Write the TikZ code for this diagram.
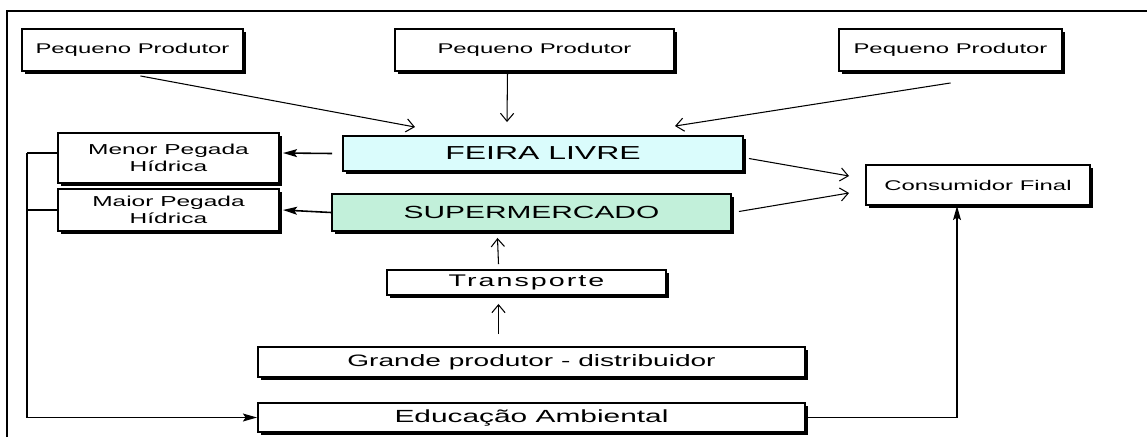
\documentclass[tikz,border=0pt]{standalone}
\usepackage{fontspec}
\setmainfont{Liberation Sans}[FakeStretch=1.7]
\usepackage{tikz}
\usetikzlibrary{calc}
\usetikzlibrary{shadows}
\usetikzlibrary{arrows.meta}
\definecolor{feiracol}{RGB}{218,252,252}
\definecolor{supercol}{RGB}{194,240,218}
\tikzset{
  box/.style={draw, line width=1.1pt, fill=white, inner sep=0pt, align=center,
    drop shadow={shadow xshift=1.5pt, shadow yshift=-1.5pt, fill=black, opacity=1}},
  thinarr/.style={line width=0.6pt, -{Straight Barb[length=4.5pt, width=7.5pt]}},
  fatarr/.style={line width=0.9pt, -{Stealth[length=8pt, width=4.5pt, inset=1.5pt]}},
  fatline/.style={line width=0.9pt}
}
% box from corner (x1,y1) to corner (x2,y2), in pixels
\newcommand{\boxA}[7]{ \node[box, #1, minimum width={(#5-#3)*0.02cm}, minimum height={(#6-#4)*0.02cm}] (#2) at ({(#3+#5)/2},{(#4+#6)/2}) {#7};}

\begin{document}
\begin{tikzpicture}[x=0.02cm, y=-0.02cm]
\useasboundingbox (0,0) rectangle (1147,437);
\draw[line width=1.7pt] (7,437) -- (7,11) -- (1147,11);
% row1
\boxA{font=\fontsize{8}{9.6}\selectfont}{pp1}{22}{29}{243}{71}{Pequeno Produtor}
\boxA{font=\fontsize{8}{9.6}\selectfont}{pp2}{395}{29}{674}{71}{Pequeno Produtor}
\boxA{font=\fontsize{8}{9.6}\selectfont}{pp3}{839}{29}{1062}{71}{Pequeno Produtor}
% row2
\boxA{font=\fontsize{8.2}{9.8}\selectfont}{menor}{58}{133}{279}{183}{Menor Pegada\\Hídrica}
\boxA{fill=feiracol, font=\fontsize{10.7}{12}\selectfont}{feira}{343}{136}{743}{171}{FEIRA LIVRE}
\boxA{font=\fontsize{8}{9.6}\selectfont}{cons}{866}{165}{1090}{205}{Consumidor Final}
% row3
\boxA{font=\fontsize{8.2}{9.8}\selectfont}{maior}{58}{189}{279}{231}{Maior Pegada\\Hídrica}
\boxA{fill=supercol, font=\fontsize{10}{12}\selectfont}{super}{332}{194}{731}{231}{SUPERMERCADO}
% lower rows
\boxA{font=\fontsize{9.6}{11}\selectfont\addfontfeature{LetterSpace=12}}{transp}{387}{270}{666}{295}{Transporte}
\boxA{font=\fontsize{9.4}{11}\selectfont}{grande}{258}{347}{805}{377}{Grande produtor - distribuidor}
\boxA{font=\fontsize{10}{12}\selectfont}{educ}{258}{403}{805}{432}{Educação Ambiental}

% producers to feira
\draw[thinarr] ($(pp1.south)+(8,4)$) -- ($(feira.north)+(-128,-8)$);
\draw[thinarr] ($(pp2.south)+(-27,0)$) -- ($(feira.north)+(-36,-13)$);
\draw[thinarr] ($(pp3.south)+(0,11)$) -- ($(feira.north)+(132,-9)$);
% to pegada
\draw[fatarr] ($(feira.west)+(-10,0)$) -- ($(menor.east)+(3,-5)$);
\draw[fatarr] (super.west) -- ($(maior.east)+(3,0)$);
% to consumidor
\draw[thinarr] ($(feira.east)+(5,5)$) -- ($(cons.west)+(-16,-9)$);
\draw[thinarr] ($(super.east)+(7,-1)$) -- ($(cons.west)+(-16,8)$);
% supply chain
\draw[thinarr] ($(transp.north)+(-28,-5)$) -- ($(super.south)+(-34,6)$);
\draw[thinarr] ($(grande.north)+(-33,-12)$) -- ($(transp.south)+(-28,8)$);
% educacao
\draw[fatline] ($(menor.west)+(0,-5)$) -- ++(-30,0) coordinate (bend);
\draw[fatline] (maior.west) -- (maior.west -| bend);
\draw[fatarr] (bend) |- (educ.west);
\draw[fatarr] (educ.east) -| ($(cons.south)+(-21,0)$);
\end{tikzpicture}
\end{document}
